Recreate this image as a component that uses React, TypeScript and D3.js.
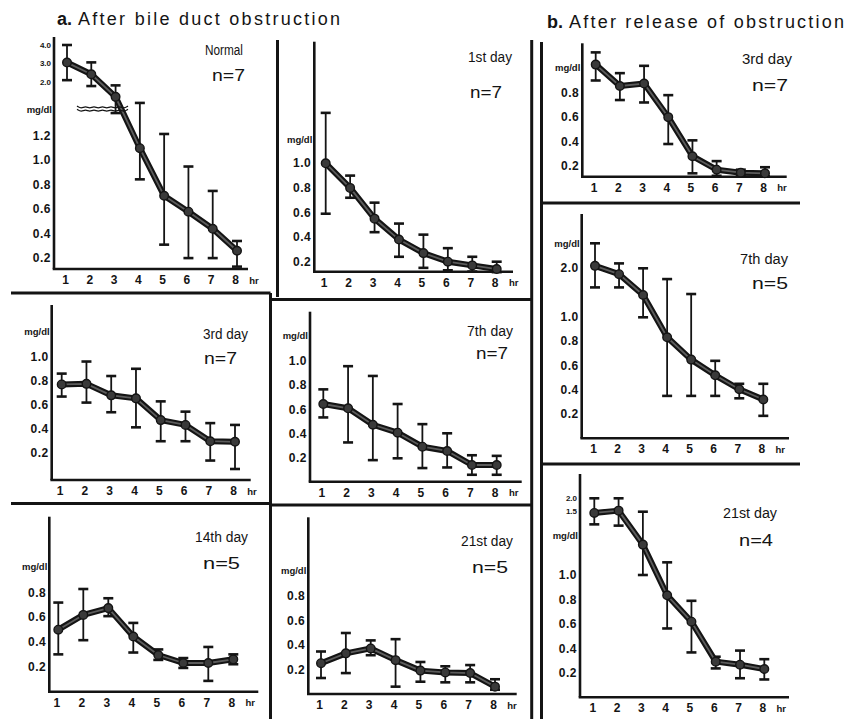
import React from 'react';
import * as d3 from 'd3';

// ---------- data ----------
const hours = [1, 2, 3, 4, 5, 6, 7, 8];

// a. After bile duct obstruction
const normalMean = [3.05, 2.42, 1.78, 1.1, 0.71, 0.58, 0.44, 0.26];
const normalHigh = [4.0, 3.06, 1.95, 1.69, 1.23, 0.95, 0.75, 0.34];
const normalLow = [2.1, 1.94, 1.54, 0.845, 0.31, 0.2, 0.2, 0.13];

const day1Mean = [1.0, 0.8, 0.55, 0.38, 0.27, 0.2, 0.17, 0.14];
const day1High = [1.41, 0.9, 0.68, 0.51, 0.42, 0.31, 0.24, 0.2];
const day1Low = [0.59, 0.72, 0.44, 0.24, 0.15, 0.13, 0.12, 0.115];

const obs3Mean = [0.77, 0.775, 0.68, 0.655, 0.475, 0.435, 0.3, 0.295];
const obs3High = [0.86, 0.96, 0.84, 0.9, 0.63, 0.545, 0.45, 0.435];
const obs3Low = [0.67, 0.62, 0.54, 0.415, 0.3, 0.3, 0.14, 0.07];

const obs7Mean = [0.645, 0.61, 0.475, 0.41, 0.295, 0.26, 0.145, 0.145];
const obs7High = [0.765, 0.955, 0.875, 0.645, 0.48, 0.405, 0.225, 0.22];
const obs7Low = [0.535, 0.33, 0.185, 0.2, 0.12, 0.125, 0.065, 0.065];

const obs14Mean = [0.5, 0.62, 0.675, 0.445, 0.295, 0.23, 0.23, 0.26];
const obs14High = [0.72, 0.83, 0.755, 0.555, 0.34, 0.27, 0.36, 0.3];
const obs14Low = [0.3, 0.415, 0.61, 0.315, 0.255, 0.19, 0.085, 0.22];

const obs21Mean = [0.255, 0.335, 0.375, 0.28, 0.195, 0.18, 0.175, 0.065];
const obs21High = [0.35, 0.5, 0.44, 0.45, 0.265, 0.23, 0.24, 0.125];
const obs21Low = [0.135, 0.175, 0.32, 0.065, 0.105, 0.1, 0.1, 0.04];

// b. After release of obstruction
const rel3Mean = [1.03, 0.855, 0.875, 0.6, 0.28, 0.17, 0.145, 0.14];
const rel3High = [1.13, 0.96, 1.02, 0.78, 0.41, 0.24, 0.17, 0.19];
const rel3Low = [0.9, 0.74, 0.72, 0.38, 0.14, 0.12, 0.125, 0.115];

const rel7Mean = [2.05, 1.88, 1.455, 0.835, 0.65, 0.52, 0.405, 0.32];
const rel7High = [2.51, 2.1, 2.0, 1.78, 1.475, 0.64, 0.45, 0.45];
const rel7Low = [1.61, 1.61, 1.0, 0.35, 0.35, 0.35, 0.33, 0.185];

const rel21Mean = [1.49, 1.54, 1.24, 0.835, 0.62, 0.295, 0.27, 0.235];
const rel21High = [2.0, 2.0, 1.5, 1.1, 0.79, 0.335, 0.385, 0.315];
const rel21Low = [1.4, 1.39, 1.0, 0.565, 0.37, 0.24, 0.16, 0.15];

// tick labels
const ticksTo12 = [0.2, 0.4, 0.6, 0.8, 1.0, 1.2];
const ticksTo10 = [0.2, 0.4, 0.6, 0.8, 1.0];
const ticksTo08 = [0.2, 0.4, 0.6, 0.8];
const normalUpperTicks = [2.0, 3.0, 4.0];
const rel7Ticks = [0.2, 0.4, 0.6, 0.8, 1.0, 2.0];
const rel21UpperTicks = [1.5, 2.0];

const titleA = 'After bile duct obstruction';
const titleB = 'After release of obstruction';

// ---------- layout ----------
const FONT = '"Liberation Sans", Arial, Helvetica, sans-serif';
const INK = '#141414';

type Panel = {
  name: string; n: string;
  mean: number[]; high: number[]; low: number[];
  ticks: number[]; smallTicks?: number[];
  axisX: number; axisTop: number; axisY: number; axisRight: number;
  xRange: [number, number];
  yDomain: number[]; yRange: number[];
  mgdlY: number;
  nameX: number; nameY: number; nameW: number;
  nX: number; nY: number; nW: number;
  brk?: boolean;
};

const panels: Panel[] = [
  { name: 'Normal', n: 'n=7', mean: normalMean, high: normalHigh, low: normalLow,
    ticks: ticksTo12, smallTicks: normalUpperTicks,
    axisX: 54, axisTop: 37, axisY: 269, axisRight: 248, xRange: [67, 237],
    yDomain: [0, 1.2, 2.0, 4.0], yRange: [282.5, 136, 82, 45], mgdlY: 109,
    nameX: 205, nameY: 55, nameW: 38, nX: 212, nY: 81, nW: 33, brk: true },
  { name: '1st day', n: 'n=7', mean: day1Mean, high: day1High, low: day1Low,
    ticks: ticksTo10,
    axisX: 314.3, axisTop: 41.7, axisY: 271.7, axisRight: 513, xRange: [325.7, 496.7],
    yDomain: [0.2, 1.0], yRange: [261.7, 163.3], mgdlY: 139.3,
    nameX: 468, nameY: 62, nameW: 44, nX: 470, nY: 98, nW: 32 },
  { name: '3rd day', n: 'n=7', mean: rel3Mean, high: rel3High, low: rel3Low,
    ticks: ticksTo08,
    axisX: 582.3, axisTop: 43.3, axisY: 176.7, axisRight: 786.7, xRange: [595.7, 765],
    yDomain: [0.2, 0.8], yRange: [166, 92.7], mgdlY: 67.3,
    nameX: 742, nameY: 64, nameW: 50, nX: 752, nY: 91, nW: 36 },
  { name: '3rd day', n: 'n=7', mean: obs3Mean, high: obs3High, low: obs3Low,
    ticks: ticksTo10,
    axisX: 51.7, axisTop: 305, axisY: 480, axisRight: 250.7, xRange: [61.7, 235],
    yDomain: [0.2, 1.0], yRange: [453.3, 356.7], mgdlY: 331.7,
    nameX: 203, nameY: 339, nameW: 45, nX: 204, nY: 364, nW: 33 },
  { name: '7th day', n: 'n=7', mean: obs7Mean, high: obs7High, low: obs7Low,
    ticks: ticksTo10,
    axisX: 310, axisTop: 311.7, axisY: 481.7, axisRight: 521.7, xRange: [323.3, 496.7],
    yDomain: [0.2, 1.0], yRange: [458.3, 360.7], mgdlY: 335,
    nameX: 467, nameY: 336, nameW: 46, nX: 476, nY: 359, nW: 32 },
  { name: '7th day', n: 'n=5', mean: rel7Mean, high: rel7High, low: rel7Low,
    ticks: rel7Ticks,
    axisX: 581.7, axisTop: 214, axisY: 438.3, axisRight: 789, xRange: [595, 763.3],
    yDomain: [0, 1.0, 2.0, 3.0], yRange: [438.2, 317.3, 268.3, 219.3], mgdlY: 243.3,
    nameX: 740, nameY: 263.5, nameW: 48, nX: 752, nY: 288.5, nW: 36 },
  { name: '14th day', n: 'n=5', mean: obs14Mean, high: obs14High, low: obs14Low,
    ticks: ticksTo08,
    axisX: 49.3, axisTop: 516.7, axisY: 691.7, axisRight: 258.3, xRange: [58.3, 233.3],
    yDomain: [0.2, 0.8], yRange: [666.7, 592.7], mgdlY: 566,
    nameX: 195, nameY: 541.5, nameW: 53, nX: 203, nY: 568.5, nW: 37 },
  { name: '21st day', n: 'n=5', mean: obs21Mean, high: obs21High, low: obs21Low,
    ticks: ticksTo08,
    axisX: 308.3, axisTop: 517.3, axisY: 694, axisRight: 516.7, xRange: [321, 495],
    yDomain: [0.2, 0.8], yRange: [670, 596], mgdlY: 570,
    nameX: 461, nameY: 546, nameW: 52, nX: 472, nY: 572.5, nW: 36 },
  { name: '21st day', n: 'n=4', mean: rel21Mean, high: rel21High, low: rel21Low,
    ticks: ticksTo10, smallTicks: rel21UpperTicks,
    axisX: 580, axisTop: 474, axisY: 697.3, axisRight: 789, xRange: [594.3, 764.3],
    yDomain: [0, 1.0, 1.5, 2.0], yRange: [697.9, 575, 511.7, 498.3], mgdlY: 535,
    nameX: 723, nameY: 517.5, nameW: 54, nX: 739, nY: 546, nW: 34 },
];

// panel divider lines [x1, y1, x2, y2]
const dividers: [number, number, number, number][] = [
  [277.5, 40, 277.5, 297],
  [270.5, 293, 270.5, 719],
  [531.7, 40, 531.7, 719],
  [541.5, 42, 541.5, 719],
  [11, 293, 270.5, 293],
  [270.5, 299.5, 531.7, 299.5],
  [11, 503.5, 270.5, 503.5],
  [270.5, 505, 531.7, 505],
  [541.5, 203, 800, 203],
  [541.5, 464, 800, 464],
];

function fmt(v: number) {
  return v.toFixed(1);
}

function Chart({ p }: { p: Panel }) {
  const x = d3.scaleLinear().domain([1, 8]).range(p.xRange);
  const y = d3.scaleLinear().domain(p.yDomain).range(p.yRange);
  const pts: [number, number][] = hours.map((h, i) => [x(h), y(p.mean[i])]);
  const path = d3.line()(pts) || '';

  // break squiggle (Normal panel)
  let squiggle: string[] = [];
  if (p.brk) {
    const wave = (off: number) => {
      const arr: [number, number][] = [];
      for (let k = 0; k <= 12; k++) {
        arr.push([77 + k * 4.25, p.mgdlY + off + (k % 2 === 0 ? -1.3 : 1.3)]);
      }
      return d3.line().curve(d3.curveBasis)(arr) || '';
    };
    squiggle = [wave(-1.6), wave(1.6)];
  }

  return (
    <g>
      {/* axes */}
      <line x1={p.axisX} y1={p.axisTop} x2={p.axisX} y2={p.axisY} stroke={INK} strokeWidth={2.6} />
      <line x1={p.axisX - 1.3} y1={p.axisY} x2={p.axisRight} y2={p.axisY} stroke={INK} strokeWidth={2.6} />

      {/* y tick labels */}
      {p.ticks.map((t) => (
        <text key={'t' + t} x={p.axisX - 3} y={y(t)} textAnchor="end" dominantBaseline="central"
          fontFamily={FONT} fontWeight="bold" fontSize={12} letterSpacing={0.5} fill={INK}>
          {fmt(t)}
        </text>
      ))}
      {(p.smallTicks || []).map((t) => (
        <text key={'s' + t} x={p.axisX - 3} y={y(t)} textAnchor="end" dominantBaseline="central"
          fontFamily={FONT} fontWeight="bold" fontSize={8} fill={INK}>
          {fmt(t)}
        </text>
      ))}
      <text x={p.axisX - 2} y={p.mgdlY} textAnchor="end" dominantBaseline="central"
        fontFamily={FONT} fontWeight="bold" fontSize={9.5} fill={INK}>
        mg/dl
      </text>

      {/* x tick labels */}
      {hours.map((h) => (
        <text key={'x' + h} x={x(h) - 1.5} y={p.axisY + 11} textAnchor="middle" dominantBaseline="central"
          fontFamily={FONT} fontWeight="bold" fontSize={12} fill={INK}>
          {h}
        </text>
      ))}
      <text x={x(8) + 17} y={p.axisY + 11} textAnchor="middle" dominantBaseline="central"
        fontFamily={FONT} fontWeight="bold" fontSize={9.5} fill={INK}>
        hr
      </text>

      {/* error bars */}
      {hours.map((h, i) => {
        const cx = x(h);
        const yt = y(p.high[i]);
        const yb = y(p.low[i]);
        return (
          <g key={'e' + h}>
            <line x1={cx} y1={yt} x2={cx} y2={yb} stroke={INK} strokeWidth={1.8} />
            <line x1={cx - 5} y1={yt} x2={cx + 5} y2={yt} stroke={INK} strokeWidth={2.6} />
            <line x1={cx - 5} y1={yb} x2={cx + 5} y2={yb} stroke={INK} strokeWidth={2.6} />
          </g>
        );
      })}

      {/* mean line */}
      <path d={path} fill="none" stroke={INK} strokeWidth={6} strokeLinejoin="round" strokeLinecap="round" />
      <path d={path} fill="none" stroke="#5c5c5c" strokeWidth={1.8} strokeLinejoin="round" />
      {pts.map(([cx, cy], i) => (
        <circle key={'c' + i} cx={cx} cy={cy} r={4.3} fill="#3a3a3a" stroke={INK} strokeWidth={1.4} />
      ))}

      {squiggle.map((d, i) => (
        <path key={'q' + i} d={d} fill="none" stroke={INK} strokeWidth={1.3} />
      ))}

      {/* panel labels */}
      <text x={p.nameX} y={p.nameY} fontFamily={FONT} fontSize={14} fill={INK}
        textLength={p.nameW} lengthAdjust="spacingAndGlyphs">
        {p.name}
      </text>
      <text x={p.nX} y={p.nY} fontFamily={FONT} fontSize={17} fill={INK}
        textLength={p.nW} lengthAdjust="spacingAndGlyphs">
        {p.n}
      </text>
    </g>
  );
}

export default function App() {
  return (
    <svg width={848} height={719} viewBox="0 0 848 719"
      style={{ position: 'absolute', left: 0, top: 0, background: '#fff' }}>
      <rect x={0} y={0} width={848} height={719} fill="#fff" />
      <text x={57} y={25} fontFamily={FONT} fontSize={18} fill={INK}>
        <tspan fontWeight="bold">a.</tspan>
        <tspan dx={6} textLength={262} lengthAdjust="spacing">{titleA}</tspan>
      </text>
      <text x={547} y={27.5} fontFamily={FONT} fontSize={18} fill={INK}>
        <tspan fontWeight="bold">b.</tspan>
        <tspan dx={6} textLength={275} lengthAdjust="spacing">{titleB}</tspan>
      </text>
      {dividers.map(([x1, y1, x2, y2], i) => (
        <line key={'d' + i} x1={x1} y1={y1} x2={x2} y2={y2} stroke={INK} strokeWidth={3} />
      ))}
      {panels.map((p, i) => (
        <Chart key={i} p={p} />
      ))}
    </svg>
  );
}
